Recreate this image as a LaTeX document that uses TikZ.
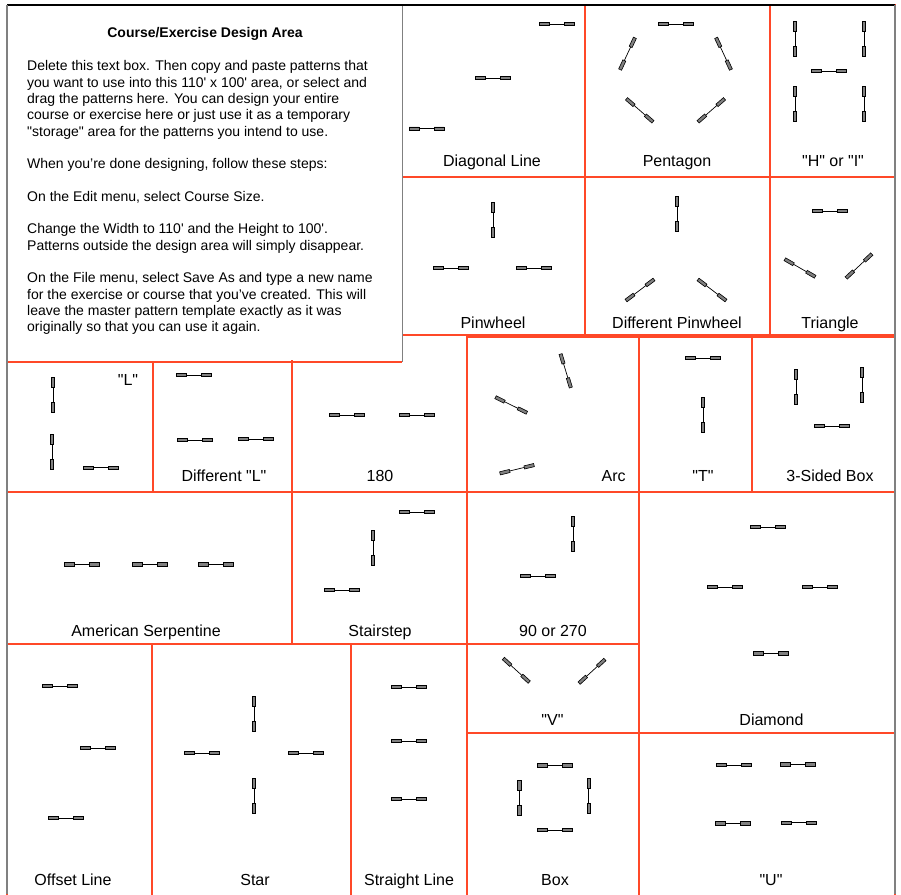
\documentclass[tikz,border=0pt]{standalone}
\usepackage{fontspec}
\newfontfamily\arialfont{Liberation Sans}
\definecolor{gridred}{RGB}{255,72,40}
\tikzset{
  cell/.style={draw=gridred,line width=1.4pt},
  lbl/.style={anchor=base,font=\arialfont\fontsize{16}{19}\selectfont},
  jump/.pic={
    \draw[line width=.7pt] (-12,0)--(12,0);
    \draw[fill=black!50,line width=.6pt] (-17.5,-1.6) rectangle (-7.5,1.6) (7.5,-1.6) rectangle (17.5,1.6);
  }
}
\begin{document}
\begin{tikzpicture}[x=1pt,y=-1pt]
\useasboundingbox (0,0) rectangle (901,894);
\fill[white] (0,0) rectangle (901,894);
% red cells of the pattern sheet
\foreach \xa/\ya/\xb/\yb in {402/5/585/177,585/5/770/177,770/5/895/177,
  402/177/585/335,585/177/770/335,770/177/895/335,
  7/362/153/492,153/362/292/492,292/335/467/492,467/337/639/492,639/337/752/492,752/337/895/492,
  7/492/292/644,292/492/467/644,467/492/639/644,639/492/895/733,467/644/639/733,
  7/644/152/897,152/644/351/897,351/644/467/897,467/733/639/897,639/733/895/897}
  \draw[cell] (\xa,\ya) rectangle (\xb,\yb);
% text box
\fill[white] (7,5) rectangle (402,360);
\draw[cell] (7,362)--(402,362);
\draw[gray,line width=1pt] (402,5)--(402,362);
\node[anchor=base,font=\arialfont\bfseries\fontsize{14}{16}\selectfont] (title) at (205,37) {Course/Exercise Design Area};
\node[anchor=north west,inner sep=0pt,align=left,font=\arialfont\fontsize{14}{16.3}\selectfont] (body) at (27,60.5) {%
Delete this text box. Then copy and paste patterns that\\
you want to use into this 110' x 100' area, or select and\\
drag the patterns here. You can design your entire\\
course or exercise here or just use it as a temporary\\
"storage" area for the patterns you intend to use.\\[16.3pt]
When you’re done designing, follow these steps:\\[16.3pt]
On the Edit menu, select Course Size.\\[16.3pt]
Change the Width to 110' and the Height to 100'.\\
Patterns outside the design area will simply disappear.\\[16.3pt]
On the File menu, select Save As and type a new name\\
for the exercise or course that you’ve created. This will\\
leave the master pattern template exactly as it was\\
originally so that you can use it again.};
% jumps: x/y/rotation
\foreach \x/\y/\r in {556.5/24/0,492.5/78/0,426.5/128.5/0,
  675.5/24/0,627.5/53.7/65,723.5/53.7/-65,639.7/110.3/-41,711.3/110.3/41,
  795/39/90,864/39/90,829/71/0,795/104/90,864/104/90,
  493/220/90,451/268/0,534/268/0,
  677/214/90,640/290/37,712/290/-37,
  829.5/211/0,800/268/-30,859/266/43,
  53/395/90,52/452/90,101/467.7/0,
  194/375/0,195/440/0,256/439/0,
  347/415/0,417/415/0,
  565.7/370.8/-73,511.2/405/-26.4,517/469.2/13.7,
  703/358/0,703/415/90,
  796/387/90,862/385/90,832/426/0,
  81.7/564.3/0,150/564.3/0,216/564.3/0,
  417/512/0,373/548/90,342/590/0,
  573/534/90,538/576/0,
  768/527/0,725/587/0,820/587/0,770.5/653.3/0,
  516.3/670.3/-42.4,592/671.3/42.5,
  554.8/765.3/0,519.3/797.8/90,588.7/795.5/90,554.5/830/0,
  734.2/765/0,797.5/764.3/0,733.2/823.3/0,799.2/822.7/0,
  60/686/0,98/748/0,66/818/0,
  254/714/90,202/753/0,306/753/0,254/796/90,
  409/687/0,409/741/0,409/799/0}
  \pic[rotate=\r] at (\x,\y) {jump};
% labels
\node[lbl] (diag) at (492,166.5) {Diagonal Line};
\node[lbl] (penta) at (677,166.5) {Pentagon};
\node[lbl] (hori) at (833,166.5) {"H" or "I"};
\node[lbl] (pin) at (493,328) {Pinwheel};
\node[lbl] (dpin) at (677,328) {Different Pinwheel};
\node[lbl] (tri) at (830,328) {Triangle};
\node[lbl] (ell) at (128,385) {"L"};
\node[lbl] (dell) at (224,481.5) {Different "L"};
\node[lbl] (oneeighty) at (380,481.5) {180};
\node[lbl] (arc) at (613.7,481.5) {Arc};
\node[lbl] (tee) at (703,481.5) {"T"};
\node[lbl] (threebox) at (830,481.5) {3-Sided Box};
\node[lbl] (serp) at (146,636) {American Serpentine};
\node[lbl] (stair) at (380,636) {Stairstep};
\node[lbl] (ninety) at (553,636) {90 or 270};
\node[lbl] (vee) at (552.5,725) {"V"};
\node[lbl] (diam) at (771.5,725) {Diamond};
\node[lbl] (offset) at (73,885) {Offset Line};
\node[lbl] (star) at (255,885) {Star};
\node[lbl] (straight) at (409,885) {Straight Line};
\node[lbl] (box) at (555,885) {Box};
\node[lbl] (you) at (771,885) {"U"};
% page frame
\draw[line width=1.5pt] (7,5)--(895,5);
\draw[gray,line width=2pt] (7,5)--(7,894) (895,5)--(895,894);
\end{tikzpicture}
\end{document}
